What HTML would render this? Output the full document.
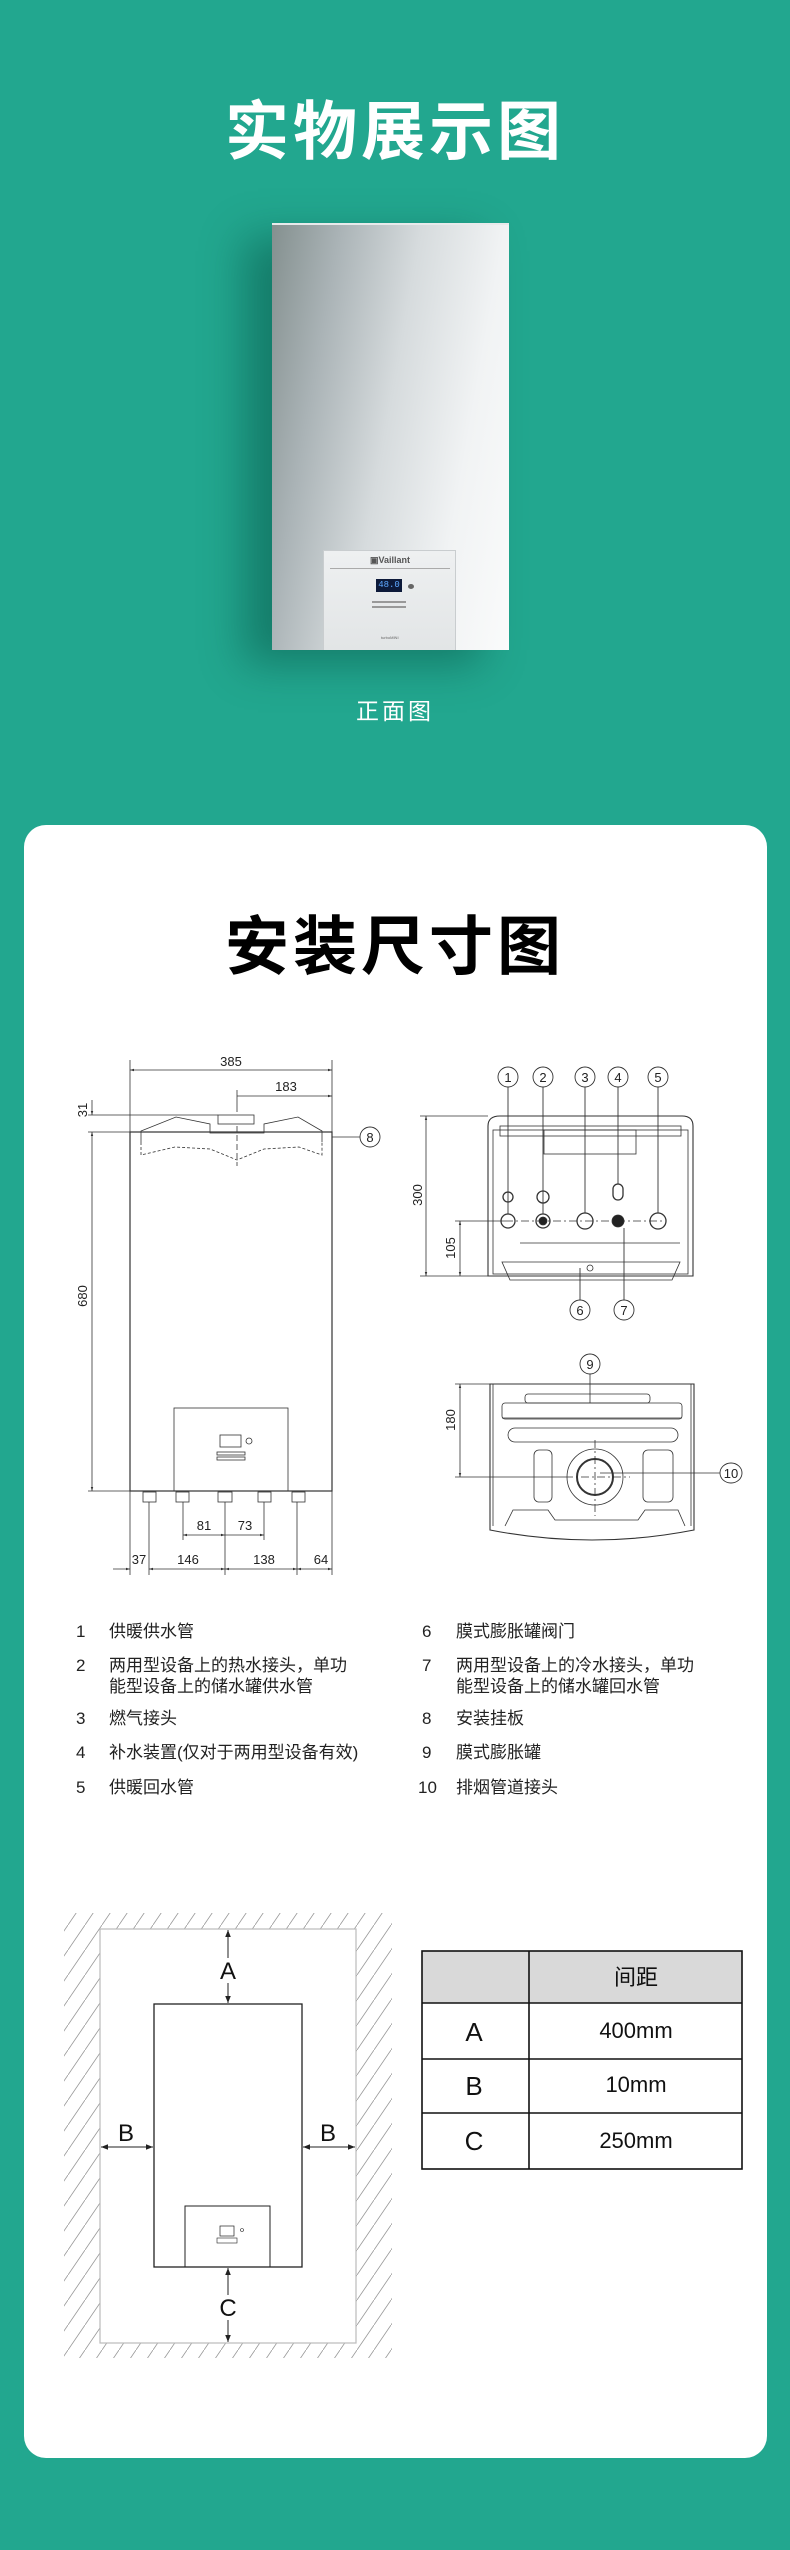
<!DOCTYPE html>
<html><head><meta charset="utf-8"><style>
html,body{margin:0;padding:0}
body{width:790px;height:2550px;background:#22a78f;position:relative;overflow:hidden;font-family:"Liberation Sans","Noto Sans CJK SC",sans-serif}
.t{position:absolute;left:0;width:790px;text-align:center;font-family:"Noto Sans CJK SC",sans-serif;font-weight:700;font-size:64px;letter-spacing:4px;line-height:1}
.card{position:absolute;left:24px;top:825px;width:743px;height:1633px;background:#fff;border-radius:22px}
.boiler{position:absolute;left:272px;top:223px;width:237px;height:425px;background:linear-gradient(100deg,#84908f 0%,#aab3b6 22%,#d6dbdd 48%,#f1f3f4 75%,#fafbfb 100%);box-shadow:-28px 14px 40px rgba(0,60,50,.4);border-top:2px solid #e8eaeb}
.panel{position:absolute;left:51px;top:325px;width:133px;height:100px;background:linear-gradient(#eef0f1,#e2e5e6);border:1px solid #c9cdcf;border-bottom:none;box-sizing:border-box}
svg text{font-family:"Liberation Sans","Noto Sans CJK SC",sans-serif}
</style></head><body>
<div class="t" style="top:95px;color:#fff">实物展示图</div>
<div class="boiler"><div class="panel">
<div style="position:absolute;left:46px;top:4px;font:bold 9px 'Liberation Sans',sans-serif;color:#555">▣Vaillant</div>
<div style="position:absolute;left:6px;top:17px;width:120px;height:1px;background:#aaa"></div>
<div style="position:absolute;left:52px;top:28px;width:26px;height:13px;background:#0d1a3a;color:#5fa8ff;font:9px 'Liberation Mono',monospace;text-align:center;line-height:13px">48.0</div>
<div style="position:absolute;left:84px;top:33px;width:6px;height:5px;border-radius:50%;background:#666"></div>
<div style="position:absolute;left:48px;top:50px;width:34px;height:2px;background:#999"></div>
<div style="position:absolute;left:48px;top:55px;width:34px;height:2px;background:#999"></div>
<div style="position:absolute;left:57px;top:84px;font:4px sans-serif;color:#666">turboMINI</div>
</div></div>
<div style="position:absolute;left:0;width:790px;top:692px;text-align:center;color:#fff;font-size:23px;letter-spacing:3px;font-family:'Noto Sans CJK SC',sans-serif">正面图</div>
<div class="card"></div>
<div class="t" style="top:910px;color:#000">安装尺寸图</div>

<svg width="790" height="2550" style="position:absolute;left:0;top:0" xmlns="http://www.w3.org/2000/svg">
<defs>
<marker id="a" viewBox="0 0 10 10" refX="10" refY="5" markerWidth="7" markerHeight="7" orient="auto-start-reverse"><path d="M0,1 L10,5 L0,9z" fill="#222"/></marker>
<marker id="s" viewBox="0 0 10 10" refX="10" refY="5" markerWidth="5" markerHeight="5" orient="auto-start-reverse"><path d="M0,2 L10,5 L0,8z" fill="#333"/></marker>
<pattern id="h" width="17" height="25" patternUnits="userSpaceOnUse"><path d="M0,25 L17,0" stroke="#999" stroke-width="0.8"/></pattern>
</defs>
<g stroke="#333" stroke-width="0.8" fill="none">
<rect x="130" y="1132" width="202" height="359" stroke-width="1.2"/>
<line x1="130" y1="1060" x2="130" y2="1132"/><line x1="332" y1="1060" x2="332" y2="1132"/>
<line x1="130" y1="1070" x2="332" y2="1070" marker-start="url(#s)" marker-end="url(#s)"/>
<line x1="237" y1="1090" x2="237" y2="1112"/>
<line x1="237" y1="1096" x2="332" y2="1096" marker-end="url(#s)"/>
<line x1="88" y1="1115" x2="218" y2="1115"/><line x1="88" y1="1132" x2="130" y2="1132"/>
<line x1="92" y1="1100" x2="92" y2="1115" marker-end="url(#s)"/>
<line x1="92" y1="1132" x2="92" y2="1491" marker-start="url(#s)" marker-end="url(#s)"/>
<line x1="88" y1="1491" x2="130" y2="1491"/>
<path d="M141,1142 L141,1131 L176,1117 L210,1124 L210,1133 L264,1133 L264,1124 L298,1117 L322,1131 L322,1142"/>
<rect x="218" y="1115" width="36" height="9"/>
<path d="M141,1142 L141,1155 L175,1147 L210,1149 L237,1160 L264,1149 L299,1147 L322,1155 L322,1142" stroke-dasharray="3,2"/>
<line x1="237" y1="1126" x2="237" y2="1166" stroke-dasharray="6,3"/>
<line x1="332" y1="1137" x2="360" y2="1137"/>
<rect x="174" y="1408" width="114" height="83"/>
<rect x="220" y="1435" width="21" height="12"/><circle cx="249" cy="1441" r="3"/>
<rect x="217" y="1452" width="28" height="3"/><rect x="217" y="1457" width="28" height="3"/>
<g fill="#fff"><rect x="143" y="1492" width="13" height="10"/><rect x="176" y="1492" width="13" height="10"/><rect x="218" y="1492" width="14" height="10"/><rect x="258" y="1492" width="13" height="10"/><rect x="292" y="1492" width="13" height="10"/></g>
<line x1="130" y1="1491" x2="130" y2="1575"/><line x1="149" y1="1502" x2="149" y2="1575"/><line x1="183" y1="1502" x2="183" y2="1540"/><line x1="225" y1="1502" x2="225" y2="1575"/><line x1="264" y1="1502" x2="264" y2="1540"/><line x1="297" y1="1502" x2="297" y2="1575"/><line x1="332" y1="1491" x2="332" y2="1575"/>
<line x1="183" y1="1535" x2="225" y2="1535" marker-start="url(#s)" marker-end="url(#s)"/>
<line x1="225" y1="1535" x2="264" y2="1535" marker-end="url(#s)"/>
<line x1="113" y1="1569" x2="130" y2="1569" marker-end="url(#s)"/>
<line x1="149" y1="1569" x2="225" y2="1569" marker-start="url(#s)" marker-end="url(#s)"/>
<line x1="225" y1="1569" x2="297" y2="1569" marker-start="url(#s)" marker-end="url(#s)"/>
<line x1="297" y1="1569" x2="332" y2="1569" marker-start="url(#s)" marker-end="url(#s)"/>
<path d="M488,1126 Q488,1116 500,1116 L682,1116 Q693,1116 693,1126 L693,1276 L488,1276 Z" stroke-width="1.1"/>
<rect x="493" y="1130" width="195" height="144"/>
<rect x="500" y="1126" width="181" height="10"/>
<rect x="544" y="1130" width="92" height="24"/>
<path d="M520,1243 L680,1243 M502,1262 L680,1262 L672,1280 L510,1280 Z"/>
<line x1="420" y1="1116" x2="488" y2="1116"/><line x1="420" y1="1276" x2="488" y2="1276"/>
<line x1="426" y1="1116" x2="426" y2="1276" marker-start="url(#s)" marker-end="url(#s)"/>
<line x1="455" y1="1221" x2="505" y2="1221"/><line x1="460" y1="1221" x2="460" y2="1276" marker-start="url(#s)" marker-end="url(#s)"/>
<line x1="505" y1="1221" x2="665" y2="1221" stroke-dasharray="8,3,2,3"/>
<g stroke-width="1.3"><circle cx="508" cy="1221" r="7"/><circle cx="543" cy="1221" r="7"/><circle cx="585" cy="1221" r="8"/><circle cx="658" cy="1221" r="8"/><circle cx="508" cy="1197" r="5"/><circle cx="543" cy="1197" r="6"/><rect x="613" y="1184" width="10" height="16" rx="5"/></g>
<circle cx="618" cy="1221" r="6" fill="#222"/><circle cx="543" cy="1221" r="4" fill="#222"/>
<circle cx="590" cy="1268" r="3"/>
<g stroke-width="0.9"><line x1="508" y1="1087" x2="508" y2="1214"/><line x1="543" y1="1087" x2="543" y2="1214"/><line x1="585" y1="1087" x2="585" y2="1213"/><line x1="618" y1="1087" x2="618" y2="1184"/><line x1="658" y1="1087" x2="658" y2="1213"/><line x1="580" y1="1268" x2="580" y2="1301"/><line x1="624" y1="1228" x2="624" y2="1301"/></g>
<path d="M490,1384 L694,1384 L694,1530 Q592,1550 490,1530 Z" stroke-width="1.1"/>
<line x1="493" y1="1384" x2="493" y2="1526"/><line x1="691" y1="1384" x2="691" y2="1526"/>
<rect x="502" y="1403" width="180" height="16" rx="3"/><rect x="525" y="1394" width="125" height="9" rx="3"/>
<line x1="502" y1="1418" x2="682" y2="1418"/>
<rect x="508" y="1428" width="170" height="14" rx="7"/>
<rect x="534" y="1450" width="18" height="52" rx="5"/><rect x="643" y="1450" width="30" height="52" rx="5"/>
<ellipse cx="595" cy="1477" rx="28" ry="28"/><circle cx="595" cy="1477" r="18" stroke-width="2"/>
<path d="M505,1526 L513,1510 L548,1510 L555,1520 L638,1520 L645,1510 L678,1510 L685,1526"/>
<line x1="455" y1="1384" x2="490" y2="1384"/><line x1="455" y1="1477" x2="565" y2="1477"/>
<line x1="565" y1="1477" x2="630" y2="1477" stroke-dasharray="8,3,2,3"/>
<line x1="595" y1="1440" x2="595" y2="1516" stroke-dasharray="8,3,2,3"/>
<line x1="460" y1="1384" x2="460" y2="1477" marker-start="url(#s)" marker-end="url(#s)"/>
<line x1="590" y1="1374" x2="590" y2="1403"/><line x1="600" y1="1473" x2="720" y2="1473"/>
<g fill="#fff" stroke-width="0.9">
<ellipse cx="370" cy="1137" rx="10" ry="10"/>
<ellipse cx="508" cy="1077" rx="10" ry="10"/><ellipse cx="543" cy="1077" rx="10" ry="10"/><ellipse cx="585" cy="1077" rx="10" ry="10"/><ellipse cx="618" cy="1077" rx="10" ry="10"/><ellipse cx="658" cy="1077" rx="10" ry="10"/>
<ellipse cx="580" cy="1310" rx="10" ry="10"/><ellipse cx="624" cy="1310" rx="10" ry="10"/>
<ellipse cx="590" cy="1364" rx="10" ry="10"/><ellipse cx="731" cy="1473" rx="11" ry="10"/>
</g>
</g>
<g font-size="13" fill="#222" text-anchor="middle">
<text x="231" y="1066">385</text><text x="286" y="1091">183</text>
<text x="370" y="1142">8</text><text x="508" y="1082">1</text><text x="543" y="1082">2</text><text x="585" y="1082">3</text><text x="618" y="1082">4</text><text x="658" y="1082">5</text>
<text x="580" y="1315">6</text><text x="624" y="1315">7</text><text x="590" y="1369">9</text><text x="731" y="1478">10</text>
<text x="204" y="1530">81</text><text x="245" y="1530">73</text>
<text x="139" y="1564">37</text><text x="188" y="1564">146</text><text x="264" y="1564">138</text><text x="321" y="1564">64</text>
<text transform="translate(87,1110) rotate(-90)">31</text>
<text transform="translate(87,1296) rotate(-90)">680</text>
<text transform="translate(422,1195) rotate(-90)">300</text>
<text transform="translate(455,1248) rotate(-90)">105</text>
<text transform="translate(455,1420) rotate(-90)">180</text>
</g>
<g font-size="17" fill="#222">
<text x="76" y="1637">1</text><text x="109" y="1637">供暖供水管</text>
<text x="76" y="1671">2</text><text x="109" y="1671">两用型设备上的热水接头，单功</text><text x="109" y="1692">能型设备上的储水罐供水管</text>
<text x="76" y="1724">3</text><text x="109" y="1724">燃气接头</text>
<text x="76" y="1758">4</text><text x="109" y="1758">补水装置(仅对于两用型设备有效)</text>
<text x="76" y="1793">5</text><text x="109" y="1793">供暖回水管</text>
<text x="422" y="1637">6</text><text x="456" y="1637">膜式膨胀罐阀门</text>
<text x="422" y="1671">7</text><text x="456" y="1671">两用型设备上的冷水接头，单功</text><text x="456" y="1692">能型设备上的储水罐回水管</text>
<text x="422" y="1724">8</text><text x="456" y="1724">安装挂板</text>
<text x="422" y="1758">9</text><text x="456" y="1758">膜式膨胀罐</text>
<text x="418" y="1793">10</text><text x="456" y="1793">排烟管道接头</text>
</g>
<rect x="64" y="1913" width="328" height="445" fill="url(#h)"/>
<rect x="100" y="1929" width="256" height="414" fill="#fff" stroke="#bbb" stroke-width="1.2"/>
<g stroke="#222" fill="none">
<rect x="154" y="2004" width="148" height="263" stroke-width="1.3"/>
<rect x="185" y="2206" width="85" height="61"/>
<rect x="220" y="2226" width="14" height="10" stroke-width="0.7"/><circle cx="242" cy="2230" r="1.5" stroke-width="0.6"/>
<rect x="217" y="2238" width="20" height="5" stroke-width="0.6"/>
<line x1="228" y1="1930" x2="228" y2="1958" marker-start="url(#a)"/><line x1="228" y1="1983" x2="228" y2="2003" marker-end="url(#a)"/>
<line x1="228" y1="2268" x2="228" y2="2295" marker-start="url(#a)"/><line x1="228" y1="2320" x2="228" y2="2342" marker-end="url(#a)"/>
<line x1="101" y1="2147" x2="153" y2="2147" marker-start="url(#a)" marker-end="url(#a)"/>
<line x1="303" y1="2147" x2="355" y2="2147" marker-start="url(#a)" marker-end="url(#a)"/>
</g>
<g font-size="24" fill="#111" text-anchor="middle">
<text x="228" y="1979">A</text><text x="126" y="2141">B</text><text x="328" y="2141">B</text><text x="228" y="2316">C</text>
</g>
<rect x="422" y="1951" width="320" height="52" fill="#d9d9d9"/>
<g stroke="#111" stroke-width="1.6" fill="none">
<rect x="422" y="1951" width="320" height="218"/>
<line x1="529" y1="1951" x2="529" y2="2169"/>
<line x1="422" y1="2003" x2="742" y2="2003"/><line x1="422" y1="2059" x2="742" y2="2059"/><line x1="422" y1="2113" x2="742" y2="2113"/>
</g>
<g fill="#111" text-anchor="middle">
<text x="636" y="1985" font-size="22">间距</text>
<text x="474" y="2041" font-size="26">A</text><text x="474" y="2095" font-size="26">B</text><text x="474" y="2150" font-size="26">C</text>
<text x="636" y="2038" font-size="22">400mm</text><text x="636" y="2092" font-size="22">10mm</text><text x="636" y="2148" font-size="22">250mm</text>
</g>
</svg>
</body></html>
